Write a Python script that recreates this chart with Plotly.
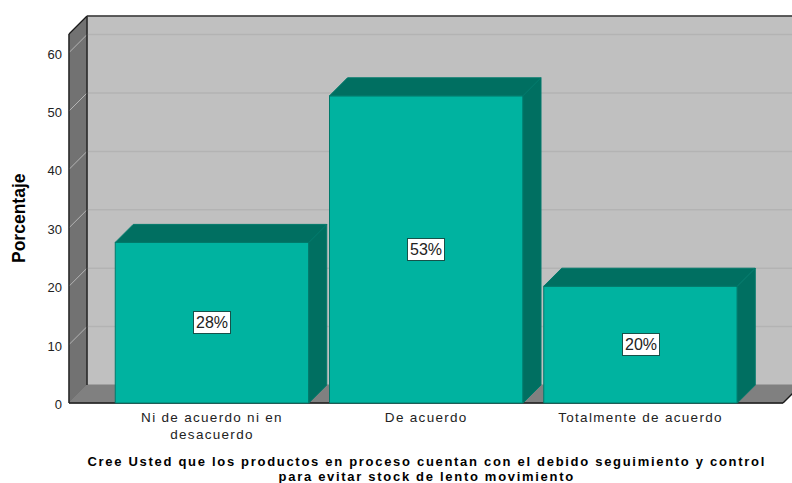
import plotly.graph_objects as go

categories = ["Ni de acuerdo ni en<br>desacuerdo", "De acuerdo", "Totalmente de acuerdo"]
values = [27.5, 52.6, 20.0]
labels = ["28%", "53%", "20%"]
y_ticks = [0, 10, 20, 30, 40, 50, 60]
x_title = ["Cree Usted que los productos en proceso cuentan con el debido seguimiento y control",
           "para evitar stock de lento movimiento"]
y_title = "Porcentaje"

FACE = "#00b3a0"
DARK = "#006f61"
EDGE = "#00796b"
WALL = "#c0c0c0"
SIDE = "#727272"
FLOOR = "#808080"
GRID = "#b3b3b3"
GRID_SIDE = "#b4b4b4"
INK = "#1a1a1a"

W, H = 792, 483
L, R, T, B = 66, 792, 13, 406      # plot area, slightly larger than the box so edge lines are not clipped
BOX_L, BOX_R, BOX_T, BOX_B = 69, 783, 16, 403
UX, UY = 214.25, 5.84
XC0 = 212.0
DX, DY = 18 / UX, 18 / UY
BAR_W = 193.5 / UX
x0 = (BOX_L - XC0) / UX
x1 = (BOX_R - XC0) / UX
y1 = (BOX_B - BOX_T) / UY
xs = list(range(len(categories)))
x_range = [(L - XC0) / UX, (R - XC0) / UX]
y_range = [-(B - BOX_B) / UY, (BOX_B - T) / UY]


def px(p):
    return (p - L) / (R - L)


def py(p):
    return 1 - (p - T) / (B - T)


def poly(ax, ay, fill, line=None, width=1):
    return dict(type="path", layer="below", xref="x", yref="y",
                path="M " + " L ".join(f"{a},{b}" for a, b in zip(ax, ay)) + " Z",
                fillcolor=fill, line=dict(color=line or fill, width=width))


def seg(ax, ay, bx, by, color, width=1):
    return dict(type="line", layer="below", xref="x", yref="y", x0=ax, y0=ay, x1=bx, y1=by,
                line=dict(color=color, width=width))


shapes = [
    poly([x0 + DX, x1 + DX, x1 + DX, x0 + DX], [DY, DY, y1, y1], WALL),
    poly([x0, x0 + DX, x0 + DX, x0], [0, DY, y1, y1 - DY], SIDE),
    poly([x0, x0 + DX, x1 + DX, x1], [0, DY, DY, 0], FLOOR),
]
for t in y_ticks[1:]:
    shapes.append(seg(x0 + DX, t + DY, x1 + DX, t + DY, GRID, 1.5))
    shapes.append(seg(x0, t, x0 + DX, t + DY, GRID_SIDE, 1))
shapes += [
    seg(x0, 0, x0, y1 - DY, INK, 1.3),
    seg(x0 + DX, DY, x0 + DX, y1, INK, 1.3),
    seg(x0, y1 - DY, x0 + DX, y1, INK, 1.3),
    seg(x0 + DX, y1, x1 + DX, y1, "#333333", 1.5),
    seg(x0, 0, x1, 0, INK, 1.5),
    seg(x1, 0, x1 + DX, DY, INK, 1.5),
]

fig = go.Figure()
fig.add_trace(go.Bar(x=xs, y=values, width=BAR_W, marker=dict(color=FACE, line=dict(color=EDGE, width=1)),
                     hoverinfo="skip", showlegend=False))
for x, v in zip(xs, values):
    a, b = x - BAR_W / 2, x + BAR_W / 2
    fig.add_trace(go.Scatter(x=[a, a + DX, b + DX, b, a], y=[v, v + DY, v + DY, v, v], mode="lines",
                             fill="toself", fillcolor=DARK, line=dict(color=EDGE, width=1),
                             hoverinfo="skip", showlegend=False))
    fig.add_trace(go.Scatter(x=[b, b + DX, b + DX, b, b], y=[0, DY, v + DY, v, 0], mode="lines",
                             fill="toself", fillcolor=DARK, line=dict(color=EDGE, width=1),
                             hoverinfo="skip", showlegend=False))

annotations = [
    dict(x=x, y=v / 2, text=lab, showarrow=False, xref="x", yref="y",
         font=dict(family="Liberation Sans", size=16, color="#222222"),
         bgcolor="white", bordercolor="#17514a", borderwidth=1, borderpad=2)
    for x, v, lab in zip(xs, values, labels)
]
annotations.append(dict(x=px(426), y=py(470), xref="paper", yref="paper",
                        text="<b>" + "</b><br><b>".join(x_title) + "</b>",
                        showarrow=False, align="center", xanchor="center", yanchor="middle",
                        font=dict(family="Liberation Sans", size=13, color="#000000")))
annotations.append(dict(x=px(19), y=py(218), xref="paper", yref="paper", text=f"<b>{y_title}</b>",
                        showarrow=False, textangle=-90, xanchor="center", yanchor="middle",
                        font=dict(family="Liberation Sans", size=17.5, color="#000000")))

fig.update_layout(
    width=W, height=H,
    margin=dict(l=L, r=W - R, t=T, b=H - B, autoexpand=False),
    paper_bgcolor="white", plot_bgcolor="white",
    shapes=shapes, annotations=annotations, showlegend=False, barmode="overlay",
    xaxis=dict(range=x_range, tickmode="array", tickvals=xs, ticktext=categories,
               showgrid=False, zeroline=False, showline=False, ticks="", ticklabelstandoff=1,
               tickfont=dict(family="Liberation Sans", size=13.5, color="#222222"), fixedrange=True),
    yaxis=dict(range=y_range, tickmode="array", tickvals=y_ticks, ticktext=[str(t) for t in y_ticks],
               showgrid=False, zeroline=False, showline=False, ticks="", ticklabelstandoff=3,
               tickfont=dict(family="Liberation Sans", size=13, color="#222222"), fixedrange=True),
)
post = """
document.body.style.margin='0';
var s=document.createElement('style');
s.textContent='.xtick text{letter-spacing:1.3px}.annotation[data-index="3"] text{letter-spacing:1.7px}';
document.head.appendChild(s);
document.querySelectorAll('.annotation[data-index="3"] tspan.line').forEach(function(t){
  if(t.getAttribute('dy') && parseFloat(t.getAttribute('dy'))>0){t.setAttribute('dy','15px');}
});
document.querySelectorAll('.ytick text').forEach(function(t){
  t.setAttribute('dy','1.5');
});
"""
fig.write_html("out.html", config={"displayModeBar": False}, post_script=post)
